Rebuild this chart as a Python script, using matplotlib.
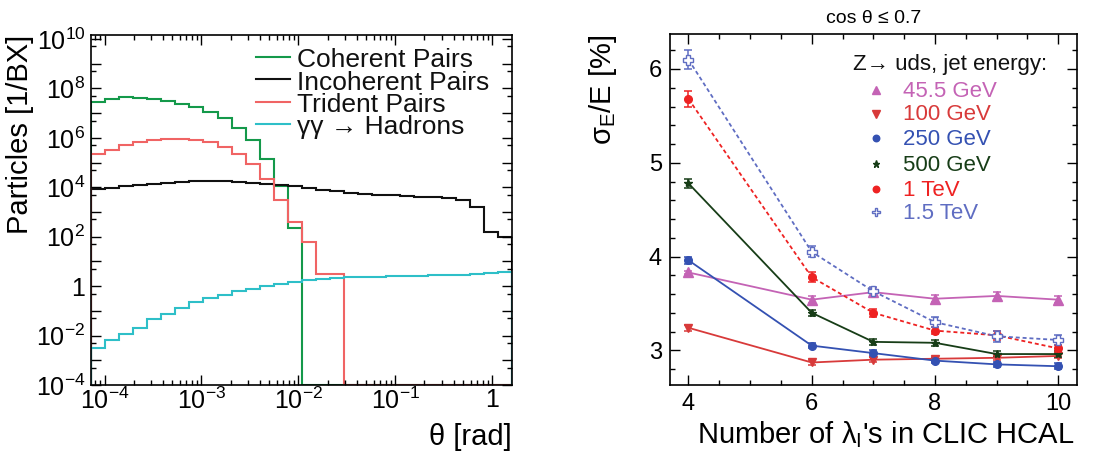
import numpy as np
import matplotlib
matplotlib.use('Agg')
import matplotlib.pyplot as plt
from matplotlib.ticker import FixedLocator, FuncFormatter, MultipleLocator, NullFormatter

plt.rcParams['font.family'] = ['Liberation Sans', 'DejaVu Sans']
plt.rcParams['mathtext.fontset'] = 'custom'
plt.rcParams['mathtext.rm'] = 'Liberation Sans'
plt.rcParams['mathtext.it'] = 'Liberation Sans:italic'
plt.rcParams['mathtext.bf'] = 'Liberation Sans:bold'
plt.rcParams['mathtext.sf'] = 'Liberation Sans'

# ---------------- Left panel data: angular distributions (per bin) ----------------
theta_min, theta_max, n_bins = 7.3e-5, 1.6, 30

coherent = [2.9e7, 3.9e7, 4.3e7, 4.0e7, 3.6e7, 3.1e7, 2.4e7, 1.8e7, 1.1e7, 6.5e6,
            2.4e6, 7.9e5, 1.45e5, 1.1e4, 230, 0, 0, 0, 0, 0,
            0, 0, 0, 0, 0, 0, 0, 0, 0, 0]
incoherent = [8.2e3, 9.3e3, 1.12e4, 1.26e4, 1.4e4, 1.54e4, 1.62e4, 1.74e4, 1.78e4, 1.74e4,
              1.62e4, 1.48e4, 1.35e4, 1.2e4, 1.1e4, 9.5e3, 8.1e3, 7.1e3, 6.0e3, 5.2e3,
              5.1e3, 4.7e3, 4.4e3, 4.2e3, 3.9e3, 3.6e3, 3.2e3, 1.6e3, 150, 100]
trident = [2.16e5, 3.1e5, 5.0e5, 6.8e5, 7.9e5, 9.0e5, 9.0e5, 7.9e5, 6.8e5, 4.3e5,
           2.3e5, 9.1e4, 2.2e4, 3.2e3, 390, 60, 3.1, 3.1, 0, 0,
           0, 0, 0, 0, 0, 0, 0, 0, 0, 0]
gg_hadrons = [3.0e-3, 6.6e-3, 1.17e-2, 2.1e-2, 4.5e-2, 7.6e-2, 0.135, 0.22, 0.32, 0.44,
              0.62, 0.79, 0.98, 1.23, 1.48, 1.74, 1.95, 2.14, 2.29, 2.34,
              2.43, 2.51, 2.57, 2.63, 2.75, 2.82, 2.88, 3.09, 3.31, 3.72]

left_series = ['Coherent Pairs', 'Incoherent Pairs', 'Trident Pairs', 'γγ → Hadrons']
left_colors = ['#14994a', '#111111', '#f06464', '#2ebfc8']

# ---------------- Right panel data: jet energy resolution ----------------
n_lambda = [4, 6, 7, 8, 9, 10]
res_45 = [3.83, 3.54, 3.62, 3.55, 3.58, 3.54]
res_100 = [3.24, 2.87, 2.90, 2.91, 2.92, 2.94]
res_250 = [3.96, 3.05, 2.97, 2.89, 2.85, 2.83]
res_500 = [4.78, 3.40, 3.09, 3.08, 2.96, 2.96]
res_1000 = [5.68, 3.78, 3.40, 3.21, 3.16, 3.02]
res_1500 = [6.10, 4.05, 3.63, 3.30, 3.15, 3.11]
err_45 = [0.02, 0.04, 0.04, 0.04, 0.04, 0.04]
err_100 = [0.03, 0.03, 0.03, 0.02, 0.02, 0.02]
err_250 = [0.04, 0.03, 0.03, 0.03, 0.03, 0.03]
err_500 = [0.05, 0.03, 0.03, 0.03, 0.03, 0.03]
err_1000 = [0.08, 0.05, 0.04, 0.04, 0.05, 0.04]
err_1500 = [0.10, 0.06, 0.05, 0.05, 0.06, 0.05]
energy_labels = ['45.5 GeV', '100 GeV', '250 GeV', '500 GeV', '1 TeV', '1.5 TeV']

fig = plt.figure(figsize=(11.01, 4.57), dpi=100)

# ================= Left panel =================
axL = fig.add_axes([91.3 / 1101, 72 / 457, 420.7 / 1101, 350 / 457])
ymin, ymax = 1e-4, 1.45e10
edges = np.logspace(np.log10(theta_min), np.log10(theta_max), n_bins + 1)
for vals, col in zip([coherent, incoherent, trident, gg_hadrons], left_colors):
    v = np.asarray(vals, dtype=float)
    v = np.where(v > 0, v, ymin)
    axL.stairs(v, edges, baseline=ymin, color=col, lw=1.5)
axL.set_xscale('log')
axL.set_yscale('log')
axL.set_xlim(theta_min, theta_max)
axL.set_ylim(ymin, ymax)

ymaj = [10.0 ** k for k in range(-4, 11)]
axL.yaxis.set_major_locator(FixedLocator(ymaj))
axL.yaxis.set_minor_locator(FixedLocator([5 * 10.0 ** k for k in range(-5, 10)]))


def yfmt(v, pos):
    e = int(round(np.log10(v)))
    if e % 2:
        return ''
    if e == 0:
        return '1'
    return r'$\mathregular{10^{%d}}$' % e


def xfmt(v, pos):
    e = int(round(np.log10(v)))
    if e == 0:
        return '1'
    return r'$\mathregular{10^{%d}}$' % e


axL.yaxis.set_major_formatter(FuncFormatter(yfmt))
axL.yaxis.set_minor_formatter(NullFormatter())
axL.xaxis.set_major_locator(FixedLocator([10.0 ** k for k in range(-4, 1)]))
axL.xaxis.set_minor_locator(FixedLocator([m * 10.0 ** k for k in range(-5, 1) for m in range(2, 10)]))
axL.xaxis.set_major_formatter(FuncFormatter(xfmt))
axL.xaxis.set_minor_formatter(NullFormatter())
axL.tick_params(which='both', direction='in', top=True, right=True, width=1.0)
axL.tick_params(which='major', length=7.5)
axL.tick_params(which='minor', length=3.8)
axL.tick_params(axis='y', which='major', labelsize=18, pad=4.3)
axL.tick_params(axis='x', which='major', labelsize=18, pad=2)
for s in axL.spines.values():
    s.set_linewidth(1.2)

axL.set_ylabel('Particles [1/BX]', fontsize=21, loc='top')
axL.yaxis.set_label_coords(-0.136, 1.0)
axL.set_xlabel('θ [rad]', fontsize=21, loc='right')
axL.xaxis.set_label_coords(1.0, -0.109)

# manual ROOT-style legend
leg_y = [0.928, 0.864, 0.800, 0.737]
line_y = [0.937, 0.873, 0.809, 0.746]
for lab, col, yy, ly in zip(left_series, left_colors, leg_y, line_y):
    axL.plot([0.3915, 0.4723], [ly, ly], color=col, lw=1.5, transform=axL.transAxes)
    axL.text(0.489, yy, lab, fontsize=19, va='center', ha='left',
             transform=axL.transAxes, color='#111111')

# ================= Right panel =================
axR = fig.add_axes([670 / 1101, 72 / 457, 406.7 / 1101, 350.7 / 457])
styles = [
    dict(y=res_45, e=err_45, color='#c463b5', marker='^', ms=7, ls='-', mfc='#c463b5'),
    dict(y=res_100, e=err_100, color='#d83a3a', marker='v', ms=6, ls='-', mfc='#d83a3a'),
    dict(y=res_250, e=err_250, color='#3451b2', marker='o', ms=5.5, ls='-', mfc='#3451b2'),
    dict(y=res_500, e=err_500, color='#173d17', marker='*', ms=6, ls='-', mfc='#173d17'),
    dict(y=res_1000, e=err_1000, color='#ee2222', marker='o', ms=5.5, ls=(0, (2.2, 1.6)), mfc='#ee2222'),
    dict(y=res_1500, e=err_1500, color='#5f6dc2', marker='P', ms=7, ls=(0, (2.2, 1.6)), mfc='white'),
]
for st in styles:
    axR.errorbar(n_lambda, st['y'], yerr=st['e'], color=st['color'], ls=st['ls'], lw=1.3,
                 marker=st['marker'], ms=st['ms'], mfc=st['mfc'], mec=st['color'],
                 capsize=3, elinewidth=1.1, capthick=1.1)
axR.set_xlim(3.7, 10.3)
axR.set_ylim(2.63, 6.37)
axR.xaxis.set_major_locator(MultipleLocator(2))
axR.xaxis.set_minor_locator(MultipleLocator(0.5))
axR.yaxis.set_major_locator(MultipleLocator(1))
axR.yaxis.set_minor_locator(MultipleLocator(0.2))
axR.tick_params(which='both', direction='in', top=True, right=True, width=1.0)
axR.tick_params(which='major', length=7.5)
axR.tick_params(which='minor', length=3.8)
axR.tick_params(axis='both', which='major', labelsize=17)
axR.tick_params(axis='x', which='major', pad=6)
axR.tick_params(axis='y', which='major', pad=5.8)
for s in axR.spines.values():
    s.set_linewidth(1.2)

axR.set_ylabel(r'σ$_\mathregular{E}$/E [%]', fontsize=21, loc='top')
axR.yaxis.set_label_coords(-0.125, 1.0)
axR.set_xlabel(r"Number of λ$_\mathregular{I}$'s in CLIC HCAL", fontsize=21, loc='right')
axR.xaxis.set_label_coords(0.995, -0.098)
axR.set_title('cos θ ≤ 0.7', fontsize=14, pad=7.9)

axR.text(0.450, 0.915, 'Z→ uds, jet energy:', fontsize=16, va='center', ha='left',
         transform=axR.transAxes, color='#111111')
leg_yR = [0.838, 0.770, 0.699, 0.627, 0.556, 0.488]
for st, lab, yy in zip(styles, energy_labels, leg_yR):
    axR.plot([0.5065], [yy + 0.004], marker=st['marker'], ms=st['ms'] * 0.85, color=st['color'],
             mfc=st['mfc'], mec=st['color'], transform=axR.transAxes, clip_on=False, ls='none')
    axR.text(0.573, yy, lab, fontsize=16, va='center', ha='left', color=st['color'],
             transform=axR.transAxes)

fig.savefig('out.png', dpi=100)
